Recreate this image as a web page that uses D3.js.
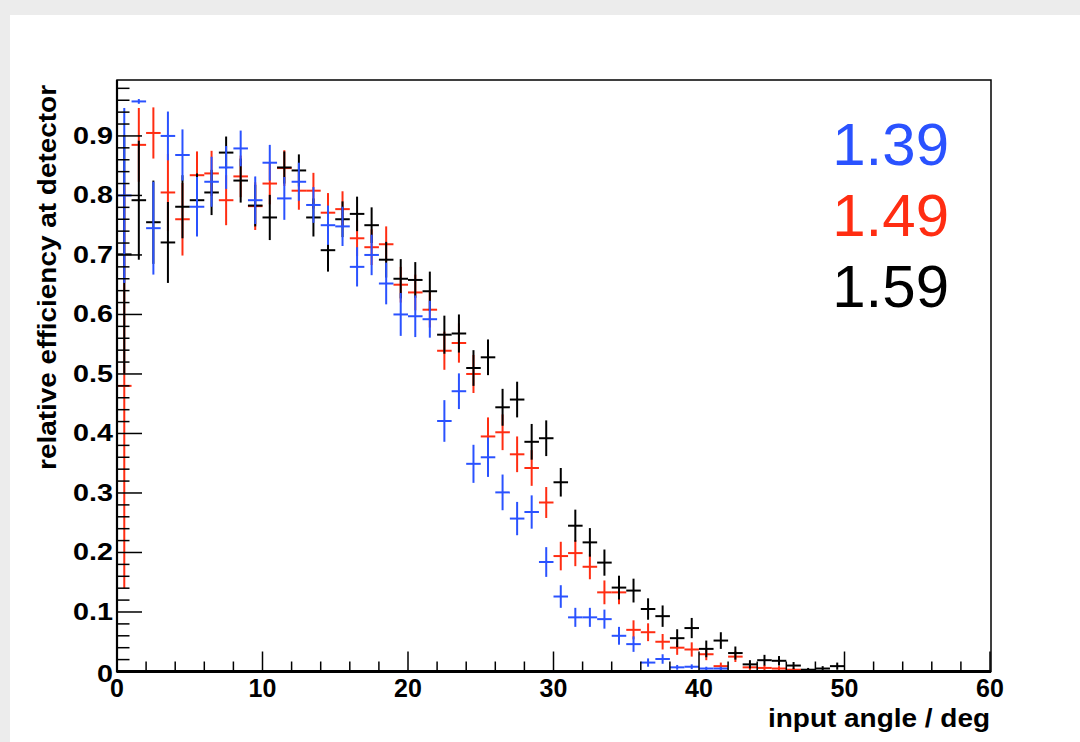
<!DOCTYPE html>
<html>
<head>
<meta charset="utf-8">
<script src="https://cdn.jsdelivr.net/npm/d3@7/dist/d3.min.js"></script>
<style>
  html, body { margin: 0; padding: 0; background: #ececec; }
  svg { display: block; }
</style>
</head>
<body>
<svg id="chart" width="1080" height="742"></svg>
<script>
// Bin centres of the input-angle histogram (1 degree bins)
const angles = [
  0.5, 1.5, 2.5, 3.5, 4.5, 5.5, 6.5, 7.5, 8.5, 9.5,
  10.5, 11.5, 12.5, 13.5, 14.5, 15.5, 16.5, 17.5, 18.5, 19.5,
  20.5, 21.5, 22.5, 23.5, 24.5, 25.5, 26.5, 27.5, 28.5, 29.5,
  30.5, 31.5, 32.5, 33.5, 34.5, 35.5, 36.5, 37.5, 38.5, 39.5,
  40.5, 41.5, 42.5, 43.5, 44.5, 45.5, 46.5, 47.5, 48.5, 49.5
];

// n = 1.39
const effBlue = [
  0.800, 0.958, 0.745, 0.900, 0.868, 0.781, 0.823, 0.847, 0.879, 0.792,
  0.855, 0.795, 0.823, 0.784, 0.750, 0.748, 0.680, 0.700, 0.652, 0.600,
  0.597, 0.592, 0.421, 0.471, 0.349, 0.360, 0.301, 0.257, 0.268, 0.184,
  0.126, 0.091, 0.091, 0.088, 0.060, 0.046, 0.015, 0.021, 0.007, 0.008,
  0.005, 0.005, 0, 0, 0, 0, 0, 0, 0, 0
];
const errBlue = [
  0.147, 0.004, 0.078, 0.041, 0.043, 0.050, 0.042, 0.036, 0.030, 0.040,
  0.030, 0.036, 0.032, 0.030, 0.033, 0.033, 0.033, 0.034, 0.035, 0.036,
  0.035, 0.031, 0.035, 0.030, 0.032, 0.033, 0.030, 0.028, 0.028, 0.025,
  0.019, 0.016, 0.016, 0.016, 0.015, 0.013, 0.007, 0.008, 0.004, 0.004,
  0.003, 0.003, 0, 0, 0, 0, 0, 0, 0, 0
];

// n = 1.49
const effRed = [
  0.480, 0.885, 0.905, 0.805, 0.760, 0.834, 0.837, 0.792, 0.832, 0.782,
  0.820, 0.846, 0.808, 0.808, 0.771, 0.777, 0.728, 0.713, 0.718, 0.650,
  0.637, 0.608, 0.539, 0.552, 0.500, 0.395, 0.402, 0.365, 0.342, 0.284,
  0.194, 0.199, 0.176, 0.133, 0.133, 0.070, 0.066, 0.050, 0.040, 0.037,
  0.029, 0.009, 0.025, 0.007, 0.006, 0.005, 0.003, 0, 0, 0
];
const errRed = [
  0.340, 0.062, 0.043, 0.065, 0.061, 0.040, 0.038, 0.042, 0.035, 0.040,
  0.035, 0.030, 0.032, 0.030, 0.033, 0.030, 0.030, 0.030, 0.030, 0.030,
  0.030, 0.030, 0.032, 0.033, 0.032, 0.032, 0.030, 0.030, 0.030, 0.026,
  0.024, 0.022, 0.021, 0.020, 0.020, 0.016, 0.015, 0.013, 0.012, 0.012,
  0.010, 0.006, 0.009, 0.005, 0.005, 0.004, 0.003, 0, 0, 0
];

// n = 1.59
const effBlack = [
  0.701, 0.792, 0.755, 0.721, 0.781, 0.792, 0.805, 0.872, 0.825, 0.783,
  0.763, 0.847, 0.842, 0.763, 0.708, 0.760, 0.769, 0.750, 0.692, 0.660,
  0.658, 0.639, 0.566, 0.568, 0.510, 0.528, 0.444, 0.457, 0.386, 0.392,
  0.318, 0.245, 0.217, 0.183, 0.141, 0.136, 0.105, 0.093, 0.056, 0.073,
  0.038, 0.052, 0.031, 0.012, 0.019, 0.018, 0.010, 0.003, 0.005, 0.009
];
const errBlack = [
  0.200, 0.100, 0.070, 0.068, 0.053, 0.045, 0.038, 0.027, 0.037, 0.035,
  0.038, 0.027, 0.027, 0.032, 0.036, 0.030, 0.029, 0.030, 0.030, 0.033,
  0.030, 0.033, 0.032, 0.032, 0.030, 0.030, 0.031, 0.030, 0.030, 0.030,
  0.024, 0.027, 0.024, 0.022, 0.020, 0.020, 0.018, 0.018, 0.015, 0.017,
  0.014, 0.014, 0.011, 0.007, 0.009, 0.008, 0.006, 0.003, 0.004, 0.006
];

const seriesLabels = ["1.39", "1.49", "1.59"];
const xTickLabels = [0, 10, 20, 30, 40, 50, 60];
const yTickLabels = [0, 0.1, 0.2, 0.3, 0.4, 0.5, 0.6, 0.7, 0.8, 0.9];
const xTitle = "input angle / deg";
const yTitle = "relative efficiency at detector";

const COL_BLUE = "#2a52ff", COL_RED = "#ff2d12", COL_BLACK = "#000000";
const binWidth = 1;
const FONT = "'Liberation Sans', Arial, Helvetica, sans-serif";

const svg = d3.select("#chart");

// white pad area
svg.append("rect").attr("x", 10).attr("y", 15).attr("width", 1070).attr("height", 727).attr("fill", "#fff");

const frame = { left: 117, right: 990, top: 80, bottom: 671.5 };
const x = d3.scaleLinear().domain([0, 60]).range([frame.left, frame.right]);
const y = d3.scaleLinear().domain([0, 0.994]).range([frame.bottom, frame.top]);

// Error-bar crosses: horizontal bar spans the bin, vertical bar spans +/- error
function drawSeries(vals, errs, colour) {
  const g = svg.append("g").attr("stroke", colour).attr("stroke-width", 2).attr("fill", "none");
  angles.forEach((a, i) => {
    const v = vals[i], e = errs[i];
    if (!(v > 0)) return;
    g.append("line")
      .attr("x1", x(a - binWidth / 2)).attr("x2", x(a + binWidth / 2))
      .attr("y1", y(v)).attr("y2", y(v));
    if (e > 0) {
      g.append("line")
        .attr("x1", x(a)).attr("x2", x(a))
        .attr("y1", y(Math.min(v + e, 0.994))).attr("y2", y(Math.max(v - e, 0)));
    }
  });
}
drawSeries(effRed, errRed, COL_RED);
drawSeries(effBlack, errBlack, COL_BLACK);
drawSeries(effBlue, errBlue, COL_BLUE);

// Frame
svg.append("rect")
  .attr("x", frame.left).attr("y", frame.top)
  .attr("width", frame.right - frame.left + 1).attr("height", frame.bottom - frame.top)
  .attr("fill", "none").attr("stroke", "#000").attr("stroke-width", 1.5);

// Axis lines (heavier)
svg.append("line").attr("x1", frame.left).attr("x2", frame.left)
  .attr("y1", frame.top).attr("y2", frame.bottom + 1).attr("stroke", "#000").attr("stroke-width", 2.2);
svg.append("line").attr("x1", frame.left).attr("x2", frame.right + 1)
  .attr("y1", frame.bottom).attr("y2", frame.bottom).attr("stroke", "#000").attr("stroke-width", 3);

// Y ticks
const yMinor = d3.range(0, 50).map(k => k * 0.02).filter(v => v <= 0.994);
const yAxisG = svg.append("g").attr("stroke", "#000").attr("stroke-width", 1.5);
yMinor.forEach(v => {
  const major = Math.abs(v * 10 - Math.round(v * 10)) < 1e-6;
  yAxisG.append("line")
    .attr("x1", frame.left).attr("x2", frame.left + (major ? 25 : 12.5))
    .attr("y1", y(v)).attr("y2", y(v));
});

// X ticks
const xMinor = d3.range(0, 61, 2);
const xAxisG = svg.append("g").attr("stroke", "#000").attr("stroke-width", 1.5);
xMinor.forEach(v => {
  const major = v % 10 === 0;
  xAxisG.append("line")
    .attr("x1", x(v)).attr("x2", x(v))
    .attr("y1", frame.bottom).attr("y2", frame.bottom - (major ? 20 : 10));
});

// Tick labels (y labels are drawn slightly widened)
svg.append("g").selectAll("text").data(yTickLabels).join("text")
  .attr("transform", d => `translate(113,${y(d) + (d === 0 ? 10 : 8)}) scale(1.25,1)`)
  .attr("text-anchor", "end")
  .attr("font-family", FONT).attr("font-weight", "bold").attr("font-size", 23)
  .text(d => d === 0 ? "0" : d3.format(".1f")(d));

svg.append("g").selectAll("text").data(xTickLabels).join("text")
  .attr("x", d => x(d)).attr("y", 697)
  .attr("text-anchor", "middle")
  .attr("font-family", FONT).attr("font-weight", "bold").attr("font-size", 25)
  .text(d => d);

// Axis titles
svg.append("text")
  .attr("x", 990).attr("y", 727)
  .attr("text-anchor", "end")
  .attr("font-family", FONT).attr("font-weight", "bold").attr("font-size", 25)
  .attr("textLength", 222).attr("lengthAdjust", "spacingAndGlyphs")
  .text(xTitle);

svg.append("text")
  .attr("transform", "translate(56,85) rotate(-90)")
  .attr("text-anchor", "end")
  .attr("font-family", FONT).attr("font-weight", "bold").attr("font-size", 25)
  .attr("textLength", 385).attr("lengthAdjust", "spacingAndGlyphs")
  .text(yTitle);

// Refractive-index labels
const labelColours = [COL_BLUE, COL_RED, COL_BLACK];
const labelBaselines = [165, 236, 307];
svg.append("g").selectAll("text").data(seriesLabels).join("text")
  .attr("x", 949).attr("y", (d, i) => labelBaselines[i])
  .attr("text-anchor", "end")
  .attr("font-family", FONT).attr("font-size", 60)
  .attr("fill", (d, i) => labelColours[i])
  .text(d => d);
</script>
</body>
</html>
